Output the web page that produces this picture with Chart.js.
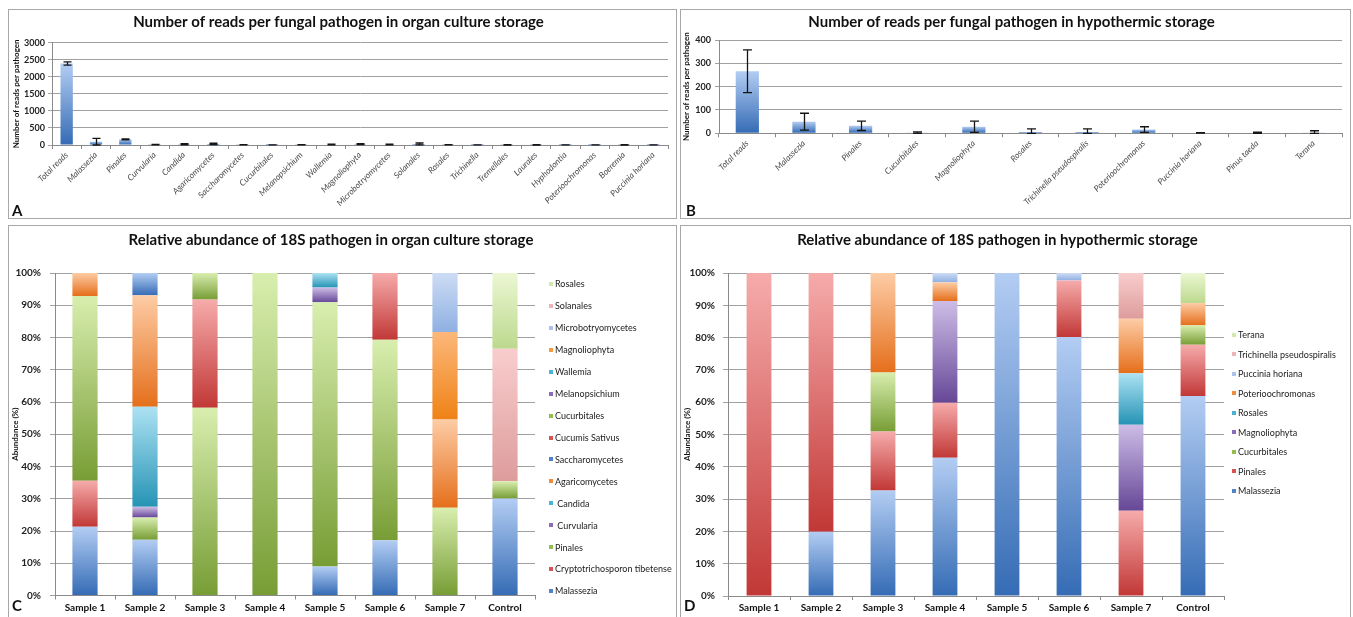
<!DOCTYPE html>
<html>
<head>
<meta charset="utf-8">
<script src="https://cdn.jsdelivr.net/npm/chart.js@4.4.0/dist/chart.umd.min.js"></script>
<style>
body { margin: 0; background: #fff; width: 1353px; height: 617px; overflow: hidden; position: relative; }
.panel { position: absolute; border: 1px solid #a8a8a8; background: #fff; overflow: hidden; }
.panel canvas { position: absolute; left: 0; top: 0; }
.tag { position: absolute; font: bold 15px Lato, sans-serif; line-height: 16px; color: #111; }
</style>
</head>
<body>
<div class="panel" style="left:8px;top:9px;width:667px;height:208px">
  <canvas id="chartA" width="667" height="208"></canvas>
  <div class="tag" style="left:3px;top:192px">A</div>
</div>
<div class="panel" style="left:680px;top:9px;width:669px;height:208px">
  <canvas id="chartB" width="669" height="208"></canvas>
  <div class="tag" style="left:5px;top:192px">B</div>
</div>
<div class="panel" style="left:8px;top:225px;width:667px;height:400px">
  <canvas id="chartC" width="667" height="391"></canvas>
  <div class="tag" style="left:3px;top:371px">C</div>
</div>
<div class="panel" style="left:680px;top:225px;width:669px;height:400px">
  <canvas id="chartD" width="669" height="391"></canvas>
  <div class="tag" style="left:3px;top:371px">D</div>
</div>
<script>
// reads per pathogen, organ culture storage
const organCategories = ['Total reads', 'Malassezia', 'Pinales', 'Curvularia', 'Candida', 'Agaricomycetes',
    'Saccharomycetes', 'Cucurbitales', 'Melanopsichium', 'Wallemia', 'Magnoliophyta', 'Microbotryomycetes',
    'Solanales', 'Rosales', 'Trichinella', 'Tremellales', 'Laurales', 'Hyphodontia', 'Poterioochromonas',
    'Boeremia', 'Puccinia horiana'];
const organReads = [2390, 97, 165, 10, 22, 32, 5, 3, 6, 12, 25, 12, 30, 6, 3, 5, 5, 2, 3, 5, 3];
const organReadsError = [50, 100, 15, 8, 18, 20, 4, 2, 5, 10, 15, 10, 28, 5, 2, 5, 5, 1, 2, 5, 2];

// reads per pathogen, hypothermic storage
const hypoCategories = ['Total reads', 'Malassezia', 'Pinales', 'Cucurbitales', 'Magnoliophyta', 'Rosales',
    'Trichinella pseudospiralis', 'Poterioochromonas', 'Puccinia horiana', 'Pinus taeda', 'Terana'];
const hypoReads = [266, 50, 32, 3, 28, 6, 6, 16, 2, 2, 3];
const hypoReadsError = [92, 36, 20, 3, 24, 13, 13, 12, 1, 3, 8];

const sampleLabels = ['Sample 1', 'Sample 2', 'Sample 3', 'Sample 4', 'Sample 5', 'Sample 6', 'Sample 7', 'Control'];

// relative abundance (%), organ culture storage, one array per taxon (stack order bottom -> top)
const organTaxa = ['Malassezia', 'Cryptotrichosporon tibetense', 'Pinales', ' Curvularia', ' Candida',
    'Agaricomycetes', 'Saccharomycetes', 'Cucumis Sativus', 'Cucurbitales', 'Melanopsichium', 'Wallemia',
    'Magnoliophyta', 'Microbotryomycetes', 'Solanales', 'Rosales'];
const ocMalassezia = [21.3, 17.3, 0, 0, 9.0, 17.1, 0, 30.1];
const ocCryptotrichosporon = [14.3, 0, 0, 0, 0, 0, 0, 0];
const ocPinales = [57.3, 6.9, 58.2, 100, 81.9, 62.2, 27.2, 5.3];
const ocCurvularia = [0, 3.3, 0, 0, 0, 0, 0, 0];
const ocCandida = [0, 31.0, 0, 0, 0, 0, 0, 0];
const ocAgaricomycetes = [7.1, 34.6, 0, 0, 0, 0, 27.4, 0];
const ocSaccharomycetes = [0, 6.9, 0, 0, 0, 0, 0, 0];
const ocCucumis = [0, 0, 33.6, 0, 0, 20.7, 0, 0];
const ocCucurbitales = [0, 0, 8.2, 0, 0, 0, 0, 0];
const ocMelanopsichium = [0, 0, 0, 0, 4.6, 0, 0, 0];
const ocWallemia = [0, 0, 0, 0, 4.5, 0, 0, 0];
const ocMagnoliophyta = [0, 0, 0, 0, 0, 0, 27.1, 0];
const ocMicrobotryomycetes = [0, 0, 0, 0, 0, 0, 18.3, 0];
const ocSolanales = [0, 0, 0, 0, 0, 0, 0, 41.1];
const ocRosales = [0, 0, 0, 0, 0, 0, 0, 23.5];
const organAbundance = [ocMalassezia, ocCryptotrichosporon, ocPinales, ocCurvularia, ocCandida,
    ocAgaricomycetes, ocSaccharomycetes, ocCucumis, ocCucurbitales, ocMelanopsichium, ocWallemia,
    ocMagnoliophyta, ocMicrobotryomycetes, ocSolanales, ocRosales];

// relative abundance (%), hypothermic storage
const hypoTaxa = ['Malassezia', 'Pinales', 'Cucurbitales', 'Magnoliophyta', 'Rosales', 'Poterioochromonas',
    'Puccinia horiana', 'Trichinella pseudospiralis', 'Terana'];
const htMalassezia = [0, 19.9, 32.7, 42.8, 100, 80.2, 0, 61.9];
const htPinales = [100, 80.1, 18.2, 17.0, 0, 17.5, 26.4, 15.9];
const htCucurbitales = [0, 0, 18.3, 0, 0, 0, 0, 6.0];
const htMagnoliophyta = [0, 0, 0, 31.5, 0, 0, 26.6, 0];
const htRosales = [0, 0, 0, 0, 0, 0, 16.0, 0];
const htPoterioochromonas = [0, 0, 30.8, 5.8, 0, 0, 16.8, 6.9];
const htPuccinia = [0, 0, 0, 2.9, 0, 2.3, 0, 0];
const htTrichinella = [0, 0, 0, 0, 0, 0, 14.2, 0];
const htTerana = [0, 0, 0, 0, 0, 0, 0, 9.3];
const hypoAbundance = [htMalassezia, htPinales, htCucurbitales, htMagnoliophyta, htRosales,
    htPoterioochromonas, htPuccinia, htTrichinella, htTerana];

// [top of bar, bottom of bar, legend swatch]
const SHADES = {
    blue:      ['#b3cdf3', '#356cb5', '#4f82ca'],
    red:       ['#f6abab', '#c13836', '#d65352'],
    green:     ['#d8eeae', '#789d35', '#93bd4c'],
    purple:    ['#cdbde6', '#664797', '#8a6cb8'],
    aqua:      ['#ade2f3', '#2593b5', '#45b3d4'],
    orange:    ['#fdcca5', '#e56f1b', '#f28c3c'],
    orange2:   ['#fcb87a', '#ef8216', '#f69a3e'],
    paleBlue:  ['#cddcf4', '#8fb0e2', '#a9c3ec'],
    pink:      ['#f9cdcd', '#dd9c9c', '#ecb4b4'],
    paleGreen: ['#ebf7d2', '#bcd98e', '#d2e8ae'],
};
const organShades = ['blue', 'red', 'green', 'purple', 'aqua', 'orange', 'blue', 'red', 'green', 'purple',
    'aqua', 'orange2', 'paleBlue', 'pink', 'paleGreen'];
const hypoShades = ['blue', 'red', 'green', 'purple', 'aqua', 'orange', 'paleBlue', 'pink', 'paleGreen'];

const FONT = 'Lato, "Open Sans", sans-serif';
Chart.defaults.font.family = FONT;
Chart.defaults.color = '#222';

// excel-like vertical gradient on every bar
const gradientBars = {
    id: 'gradientBars',
    beforeDatasetsDraw(chart) {
        const ctx = chart.ctx;
        chart.data.datasets.forEach((ds, i) => {
            const meta = chart.getDatasetMeta(i);
            meta.data.forEach(bar => {
                if (!isFinite(bar.y) || !isFinite(bar.base) || Math.abs(bar.base - bar.y) < 0.01) return;
                const g = ctx.createLinearGradient(0, bar.y, 0, bar.base);
                g.addColorStop(0, ds.shade[0]);
                g.addColorStop(1, ds.shade[1]);
                bar.options = Object.assign({}, bar.options, { backgroundColor: g });
            });
        });
    }
};

const errorBars = {
    id: 'errorBars',
    afterDatasetsDraw(chart, args, opts) {
        const ds = chart.data.datasets[0];
        if (!ds.errors) return;
        const ctx = chart.ctx;
        const y = chart.scales.y;
        ctx.save();
        ctx.strokeStyle = '#151515';
        ctx.lineWidth = 1.3;
        chart.getDatasetMeta(0).data.forEach((bar, i) => {
            const top = y.getPixelForValue(ds.data[i] + ds.errors[i]);
            const bot = y.getPixelForValue(Math.max(0, ds.data[i] - ds.errors[i]));
            const x = Math.round(bar.x) + 0.5;
            const w = opts.cap;
            ctx.beginPath();
            ctx.moveTo(x, top); ctx.lineTo(x, bot);
            ctx.moveTo(x - w, top); ctx.lineTo(x + w, top);
            ctx.moveTo(x - w, bot); ctx.lineTo(x + w, bot);
            ctx.stroke();
        });
        ctx.restore();
    }
};

// legend at the right, series listed top -> bottom in reverse stack order
const sideLegend = {
    id: 'sideLegend',
    afterDraw(chart, args, opts) {
        if (!opts.x) return;
        const ctx = chart.ctx;
        const sets = chart.data.datasets.slice().reverse();
        ctx.save();
        ctx.font = '9px ' + FONT;
        ctx.textBaseline = 'middle';
        sets.forEach((ds, i) => {
            const cy = opts.y + i * opts.step;
            ctx.fillStyle = ds.shade[2];
            ctx.fillRect(opts.x, Math.round(cy - 2), 4, 4);
            ctx.fillStyle = '#222';
            ctx.fillText(ds.label, opts.x + 6, cy + 0.5);
        });
        ctx.restore();
    }
};

function readsChart(id, labels, values, errors, g) {
    return new Chart(document.getElementById(id), {
        type: 'bar',
        data: {
            labels: labels,
            datasets: [{
                data: values,
                errors: errors,
                shade: SHADES.blue,
                backgroundColor: () => SHADES.blue[2],
                borderWidth: 0,
                barPercentage: g.bar,
                categoryPercentage: 1
            }]
        },
        options: {
            responsive: false,
            animation: false,
            events: [],
            layout: { padding: { left: 0, right: g.padRight, top: 0, bottom: 0 } },
            plugins: {
                legend: { display: false },
                tooltip: { enabled: false },
                title: {
                    display: true, text: g.title, color: '#111',
                    font: { size: 15, weight: 'bold' },
                    padding: { top: g.titleTop, bottom: g.titleBottom }
                },
                errorBars: { cap: g.cap }
            },
            scales: {
                x: {
                    grid: { drawOnChartArea: false, tickLength: 4, color: '#8a8a8a' },
                    border: { color: '#8a8a8a' },
                    ticks: { autoSkip: false, minRotation: 45, maxRotation: 45, color: '#4a4a4a',
                        font: { size: 8.5, style: 'italic' }, padding: 1 },
                    afterFit: s => { s.height = g.xHeight; }
                },
                y: {
                    min: 0, max: g.max,
                    grid: { color: '#a0a0a0', tickLength: 4 },
                    border: { color: '#8a8a8a' },
                    ticks: { stepSize: g.step, callback: v => String(v), color: '#222',
                        font: { size: 9, weight: 'bold' }, padding: g.tickPad },
                    title: { display: true, text: 'Number of reads per pathogen', color: '#111',
                        font: { size: 8, weight: 'bold' }, padding: { top: g.axisTitlePad } },
                    afterFit: s => { s.width = g.yWidth; }
                }
            }
        },
        plugins: [gradientBars, errorBars]
    });
}

function abundanceChart(id, taxa, rows, shades, g) {
    const datasets = rows.map((row, i) => ({
        label: taxa[i],
        data: row,
        shade: SHADES[shades[i]],
        backgroundColor: () => SHADES[shades[i]][2],
        borderWidth: 0,
        barPercentage: g.bar,
        categoryPercentage: 1,
        yAxisID: 'y'
    }));
    return new Chart(document.getElementById(id), {
        type: 'bar',
        data: { labels: sampleLabels, datasets: datasets },
        options: {
            responsive: false,
            animation: false,
            events: [],
            layout: { padding: { left: 0, right: g.padRight, top: 0, bottom: 0 } },
            plugins: {
                legend: { display: false },
                tooltip: { enabled: false },
                title: {
                    display: true, text: g.title, color: '#111',
                    font: { size: 15, weight: 'bold' },
                    padding: { top: g.titleTop, bottom: g.titleBottom }
                },
                sideLegend: g.legend
            },
            scales: {
                x: {
                    stacked: true,
                    grid: { drawOnChartArea: false, tickLength: 4, color: '#8a8a8a' },
                    border: { color: '#8a8a8a' },
                    ticks: { autoSkip: false, maxRotation: 0, color: '#111',
                        font: { size: 10, weight: 'bold' }, padding: 2 },
                    afterFit: s => { s.height = g.xHeight; }
                },
                y: {
                    stacked: true, min: 0, max: 100,
                    grid: { color: '#a0a0a0', tickLength: 5 },
                    border: { color: '#8a8a8a' },
                    ticks: { stepSize: 10, callback: v => v + '%', color: '#222',
                        font: { size: 10, weight: 'bold' }, padding: g.tickPad },
                    title: { display: true, text: 'Abundance (%)', color: '#111',
                        font: { size: 8, weight: 'bold' }, padding: { top: 2 } },
                    afterFit: s => { s.width = g.yWidth; }
                },
                side: {
                    type: 'linear', position: 'right', display: true,
                    grid: { display: false }, border: { display: false }, ticks: { display: false },
                    afterFit: s => { s.width = g.sideWidth; }
                }
            }
        },
        plugins: [gradientBars, sideLegend]
    });
}

readsChart('chartA', organCategories, organReads, organReadsError, {
    title: 'Number of reads per fungal pathogen in organ culture storage',
    titleTop: 3, titleBottom: 11.7, yWidth: 43, xHeight: 73, padRight: 8,
    max: 3000, step: 500, bar: 0.42, cap: 4, tickPad: 3, axisTitlePad: 3
});

readsChart('chartB', hypoCategories, hypoReads, hypoReadsError, {
    title: 'Number of reads per fungal pathogen in hypothermic storage',
    titleTop: 3, titleBottom: 9, yWidth: 38, xHeight: 84.7, padRight: 8,
    max: 400, step: 50, bar: 0.41, cap: 4.5, tickPad: 4, axisTitlePad: 1
});

abundanceChart('chartC', organTaxa, organAbundance, organShades, {
    title: 'Relative abundance of 18S pathogen in organ culture storage',
    titleTop: 5, titleBottom: 24, yWidth: 46, xHeight: 21.5, padRight: 23, sideWidth: 118,
    bar: 0.42, tickPad: 9,
    legend: { x: 540, y: 58, step: 21.93 }
});

abundanceChart('chartD', hypoTaxa, hypoAbundance, hypoShades, {
    title: 'Relative abundance of 18S pathogen in hypothermic storage',
    titleTop: 5, titleBottom: 24, yWidth: 47, xHeight: 21, padRight: 36, sideWidth: 90,
    bar: 0.4, tickPad: 8,
    legend: { x: 551, y: 109, step: 19.46 }
});
</script>
</body>
</html>
